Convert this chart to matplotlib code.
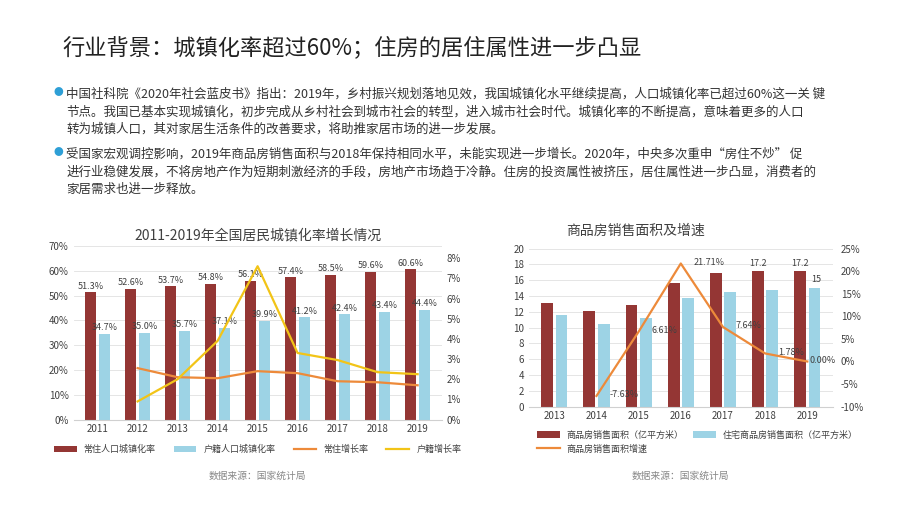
import matplotlib.pyplot as plt
import numpy as np
from matplotlib.ticker import FuncFormatter

plt.rcParams['font.family'] = ['Noto Sans CJK SC', 'DejaVu Sans']

# Left chart data
years_l = ['2011', '2012', '2013', '2014', '2015', '2016', '2017', '2018', '2019']
resident_rate = [51.3, 52.6, 53.7, 54.8, 56.1, 57.4, 58.5, 59.6, 60.6]
hukou_rate = [34.7, 35.0, 35.7, 37.1, 39.9, 41.2, 42.4, 43.4, 44.4]
resident_growth = [None, 2.55, 2.1, 2.05, 2.4, 2.3, 1.9, 1.85, 1.7]
hukou_growth = [None, 0.9, 2.0, 3.9, 7.6, 3.3, 2.95, 2.35, 2.25]

# Right chart data
years_r = ['2013', '2014', '2015', '2016', '2017', '2018', '2019']
sales_area = [13.1, 12.1, 12.9, 15.7, 16.9, 17.2, 17.2]
resi_area = [11.6, 10.5, 11.2, 13.8, 14.5, 14.8, 15.0]
sales_growth = [None, -7.63, 6.61, 21.71, 7.64, 1.78, 0.00]

RED = '#943634'
BLUE = '#9dd3e5'
ORANGE = '#ed8a3a'
YELLOW = '#f2c417'
TXT = '#404040'

fig = plt.figure(figsize=(9.2, 5.18), dpi=100)
fig.patch.set_facecolor('white')

fig.text(0.068, 0.895, '行业背景：城镇化率超过60%；住房的居住属性进一步凸显', fontsize=16, color='#222222')

para1 = ('中国社科院《2020年社会蓝皮书》指出：2019年，乡村振兴规划落地见效，我国城镇化水平继续提高，人口城镇化率已超过60%这一关 键\n'
         '节点。我国已基本实现城镇化，初步完成从乡村社会到城市社会的转型，进入城市社会时代。城镇化率的不断提高，意味着更多的人口\n'
         '转为城镇人口，其对家居生活条件的改善要求，将助推家居市场的进一步发展。')
para2 = ('受国家宏观调控影响，2019年商品房销售面积与2018年保持相同水平，未能实现进一步增长。2020年，中央多次重申“房住不炒” 促\n'
         '进行业稳健发展，不将房地产作为短期刺激经济的手段，房地产市场趋于冷静。住房的投资属性被挤压，居住属性进一步凸显，消费者的\n'
         '家居需求也进一步释放。')
fig.text(0.072, 0.83, para1, fontsize=9, color='#333333', va='top', linespacing=1.45)
fig.text(0.072, 0.715, para2, fontsize=9, color='#333333', va='top', linespacing=1.45)
for y in (0.822, 0.707):
    fig.text(0.058, y, '●', fontsize=7, color='#2e9fd6', va='center')

pct = FuncFormatter(lambda v, p: f'{v:.0f}%')

# Left chart
ax1 = fig.add_axes([0.08, 0.19, 0.40, 0.335])
x = np.arange(len(years_l))
w = 0.28
ax1.bar(x - 0.17, resident_rate, w, color=RED, label='常住人口城镇化率', zorder=2)
ax1.bar(x + 0.17, hukou_rate, w, color=BLUE, label='户籍人口城镇化率', zorder=2)
for i in range(len(x)):
    ax1.text(x[i] - 0.17, resident_rate[i] + 1.5, f'{resident_rate[i]:.1f}%', ha='center', fontsize=6.5, color=TXT)
    ax1.text(x[i] + 0.17, hukou_rate[i] + 1.5, f'{hukou_rate[i]:.1f}%', ha='center', fontsize=6.5, color=TXT)
ax1.set_ylim(0, 70)
ax1.set_yticks(range(0, 71, 10))
ax1.yaxis.set_major_formatter(pct)
ax1.set_xticks(x)
ax1.set_xticklabels(years_l)
ax1.set_xlim(-0.6, len(x) - 0.4)
ax1.grid(axis='y', color='#e0e0e0', lw=0.6, zorder=0)
ax1b = ax1.twinx()
xl = [x[i] for i in range(len(x)) if resident_growth[i] is not None]
ax1b.plot(xl, [v for v in resident_growth if v is not None], color=ORANGE, lw=1.6, label='常住增长率')
ax1b.plot(xl, [v for v in hukou_growth if v is not None], color=YELLOW, lw=1.6, label='户籍增长率')
ax1b.set_ylim(0, 8.6)
ax1b.set_yticks(range(0, 9))
ax1b.yaxis.set_major_formatter(pct)
for a in (ax1, ax1b):
    for s in a.spines.values():
        s.set_visible(False)
    a.tick_params(length=0, labelsize=7, colors=TXT)
ax1.spines['bottom'].set_visible(True)
ax1.spines['bottom'].set_color('#d0d0d0')
ax1.set_title('2011-2019年全国居民城镇化率增长情况', fontsize=10, color=TXT, pad=5)
h1, l1 = ax1.get_legend_handles_labels()
h2, l2 = ax1b.get_legend_handles_labels()
ax1.legend(h1 + h2, l1 + l2, loc='upper center', bbox_to_anchor=(0.5, -0.1), ncol=4,
           frameon=False, fontsize=6.5, handlelength=2.5, labelcolor=TXT)
fig.text(0.28, 0.075, '数据来源：国家统计局', fontsize=7, color='#888888', ha='center')

# Right chart
ax2 = fig.add_axes([0.575, 0.215, 0.33, 0.305])
x2 = np.arange(len(years_r))
ax2.bar(x2 - 0.17, sales_area, w, color=RED, label='商品房销售面积（亿平方米）', zorder=2)
ax2.bar(x2 + 0.17, resi_area, w, color=BLUE, label='住宅商品房销售面积（亿平方米）', zorder=2)
ax2.text(x2[5] - 0.17, sales_area[5] + 0.6, f'{sales_area[5]}', ha='center', fontsize=6.5, color=TXT)
ax2.text(x2[6] - 0.17, sales_area[6] + 0.6, f'{sales_area[6]}', ha='center', fontsize=6.5, color=TXT)
ax2.text(x2[6] + 0.22, resi_area[6] + 0.8, f'{resi_area[6]:.0f}', ha='center', fontsize=6.5, color=TXT)
ax2.set_ylim(0, 20)
ax2.set_yticks(range(0, 21, 2))
ax2.set_xticks(x2)
ax2.set_xticklabels(years_r)
ax2.set_xlim(-0.6, len(x2) - 0.4)
ax2.grid(axis='y', color='#e0e0e0', lw=0.6, zorder=0)
ax2b = ax2.twinx()
xs = [x2[i] for i in range(len(x2)) if sales_growth[i] is not None]
gs = [v for v in sales_growth if v is not None]
ax2b.plot(xs, gs, color=ORANGE, lw=1.6, label='商品房销售面积增速')
for xi, g in zip(xs, gs):
    dx = 0.3 if xi < xs[-1] else 0.05
    ax2b.text(xi + dx, g + 0.3, f'{g:.2f}%', fontsize=6.5, color=TXT, va='center')
ax2b.set_ylim(-10, 25)
ax2b.set_yticks(range(-10, 26, 5))
ax2b.yaxis.set_major_formatter(pct)
for a in (ax2, ax2b):
    for s in a.spines.values():
        s.set_visible(False)
    a.tick_params(length=0, labelsize=7, colors=TXT)
ax2b.tick_params(pad=6)
ax2.spines['bottom'].set_visible(True)
ax2.spines['bottom'].set_color('#d0d0d0')
ax2.set_title('商品房销售面积及增速', fontsize=10, color=TXT, pad=10, x=0.35)
h1, l1 = ax2.get_legend_handles_labels()
h2, l2 = ax2b.get_legend_handles_labels()
ax2.legend([h1[0], h2[0], h1[1]], [l1[0], l2[0], l1[1]], loc='upper left', bbox_to_anchor=(0.0, -0.1), ncol=2,
           frameon=False, fontsize=6.5, handlelength=2.5, labelcolor=TXT, columnspacing=1.0)
fig.text(0.74, 0.075, '数据来源：国家统计局', fontsize=7, color='#888888', ha='center')

plt.savefig('out.png', dpi=100)
